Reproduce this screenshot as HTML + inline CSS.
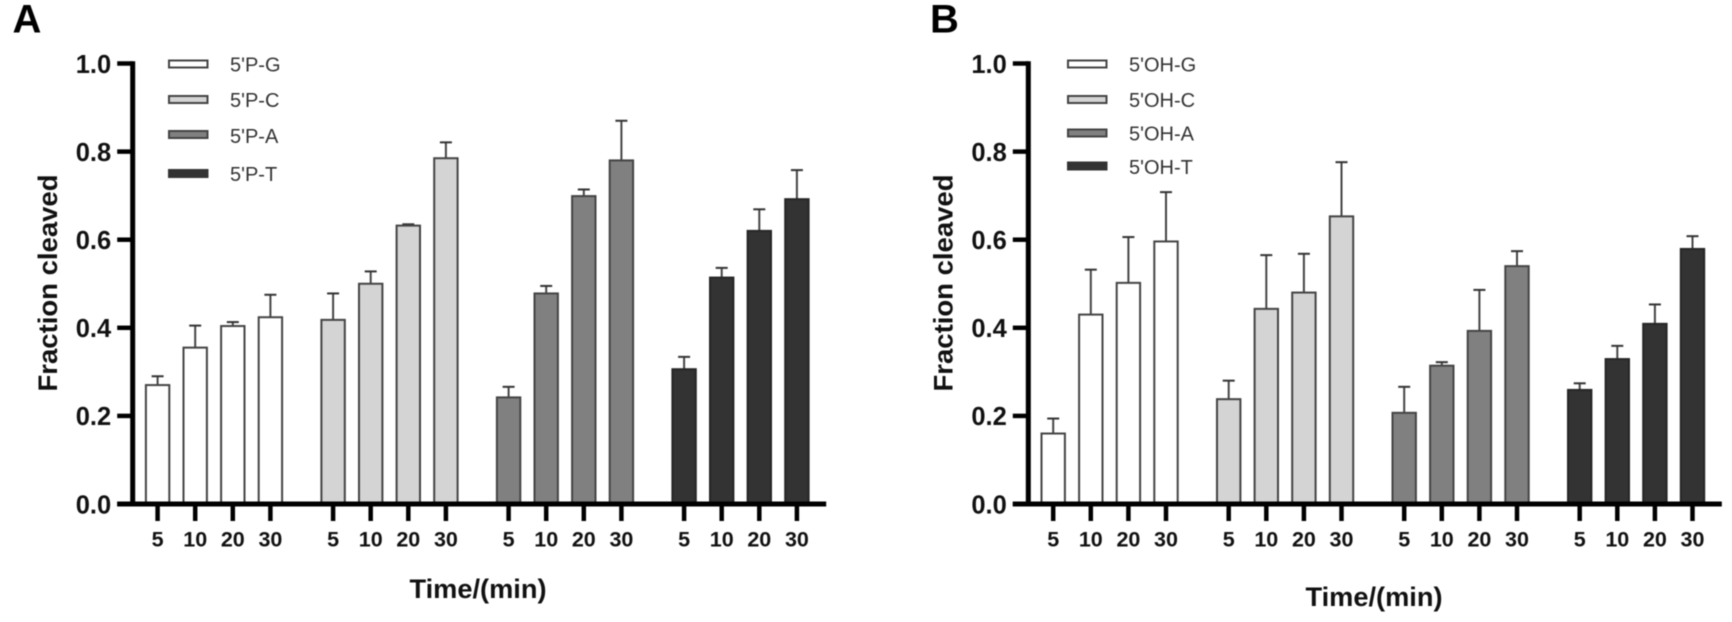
<!DOCTYPE html>
<html lang="en">
<head>
<meta charset="utf-8">
<title>Fraction cleaved over time</title>
<style>
html,body{margin:0;padding:0;background:#fff;width:1732px;height:622px;overflow:hidden}
svg{display:block;filter:blur(0.55px)}
text{font-family:"Liberation Sans",sans-serif;fill:#111}
.tick{font-weight:700;font-size:25.5px}
.xt{font-weight:700;font-size:21.5px}
.title{font-weight:700;font-size:27px}
.leg{font-size:20px;fill:#333}
.letter{font-weight:700;font-size:40px;fill:#000}
</style>
</head>
<body>
<svg id="chart" width="1732" height="622" viewBox="0 0 1732 622" xmlns="http://www.w3.org/2000/svg">
  <text class="letter" x="12.5" y="32.3">A</text>
  <text class="letter" x="930" y="32.3">B</text>
  <g id="panelA">
    <text class="title" x="478" y="598" text-anchor="middle" textLength="137" lengthAdjust="spacingAndGlyphs">Time/(min)</text>
    <text class="title" transform="translate(57,283) rotate(-90)" text-anchor="middle" textLength="217" lengthAdjust="spacingAndGlyphs">Fraction cleaved</text>
    <g>
      <rect x="169" y="60.5" width="38.5" height="7" fill="#fff" stroke="#444" stroke-width="2"/>
      <text class="leg" x="230" y="71.5">5'P-G</text>
      <rect x="169" y="96" width="38.5" height="7" fill="#d4d4d4" stroke="#444" stroke-width="2"/>
      <text class="leg" x="230" y="107">5'P-C</text>
      <rect x="169" y="131" width="38.5" height="7" fill="#808080" stroke="#444" stroke-width="2"/>
      <text class="leg" x="230" y="143">5'P-A</text>
      <rect x="169" y="170" width="38.5" height="7" fill="#333" stroke="#333" stroke-width="2"/>
      <text class="leg" x="230" y="181">5'P-T</text>
    </g>
  </g>
  <g id="panelB">
    <text class="title" x="1374" y="606" text-anchor="middle" textLength="137" lengthAdjust="spacingAndGlyphs">Time/(min)</text>
    <text class="title" transform="translate(952.7,283) rotate(-90)" text-anchor="middle" textLength="217" lengthAdjust="spacingAndGlyphs">Fraction cleaved</text>
    <g>
      <rect x="1068" y="60.5" width="38.5" height="7" fill="#fff" stroke="#444" stroke-width="2"/>
      <text class="leg" x="1129" y="71.5">5'OH-G</text>
      <rect x="1068" y="96" width="38.5" height="7" fill="#d4d4d4" stroke="#444" stroke-width="2"/>
      <text class="leg" x="1129" y="107">5'OH-C</text>
      <rect x="1068" y="129.5" width="38.5" height="7" fill="#808080" stroke="#444" stroke-width="2"/>
      <text class="leg" x="1129" y="140.5">5'OH-A</text>
      <rect x="1068" y="162.5" width="38.5" height="7" fill="#333" stroke="#333" stroke-width="2"/>
      <text class="leg" x="1129" y="174">5'OH-T</text>
    </g>
  </g>
</svg>
<script>
const yTicks = [0, 0.2, 0.4, 0.6, 0.8, 1.0];
const yTickLabels = ['0.0', '0.2', '0.4', '0.6', '0.8', '1.0'];
const timePoints = ['5', '10', '20', '30'];
const bases = ['G', 'C', 'A', 'T'];

const panelAMeans = [
  [0.270, 0.355, 0.404, 0.424],
  [0.418, 0.500, 0.632, 0.785],
  [0.242, 0.478, 0.699, 0.780],
  [0.306, 0.514, 0.620, 0.692]
];
const panelATops = [
  [0.290, 0.405, 0.413, 0.475],
  [0.478, 0.528, 0.635, 0.821],
  [0.266, 0.495, 0.714, 0.870],
  [0.334, 0.536, 0.669, 0.758]
];
const panelBMeans = [
  [0.160, 0.430, 0.502, 0.596],
  [0.238, 0.443, 0.480, 0.653],
  [0.207, 0.314, 0.393, 0.540],
  [0.259, 0.329, 0.409, 0.579]
];
const panelBTops = [
  [0.194, 0.532, 0.606, 0.708],
  [0.280, 0.565, 0.568, 0.776],
  [0.266, 0.322, 0.486, 0.574],
  [0.274, 0.359, 0.453, 0.608]
];

const NS = 'http://www.w3.org/2000/svg';
const fills = ['#ffffff', '#d4d4d4', '#808080', '#333333'];
const strokes = ['#444444', '#444444', '#444444', '#262626'];
const Y0 = 504, YSCALE = 440.5;
function yPos(v) { return Y0 - v * YSCALE; }
function xPos(spine, g, i) { return spine + 24.9 + g * 175.5 + i * 37.6; }

function make(tag, attrs, parent) {
  const el = document.createElementNS(NS, tag);
  for (const k in attrs) el.setAttribute(k, attrs[k]);
  parent.appendChild(el);
  return el;
}

function drawPanel(host, key, spine, means, tops) {
  const right = spine + 693.5;
  means.forEach(function (row, g) {
    row.forEach(function (val, i) {
      const cx = xPos(spine, g, i);
      const yv = yPos(val), yt = yPos(tops[g][i]);
      const stem = make('line', {x1: cx, x2: cx, y1: yv, y2: yt, stroke: '#444', 'stroke-width': 2}, host);
      
      
      const cap = make('line', {x1: cx - 6, x2: cx + 6, y1: yt, y2: yt, stroke: '#333', 'stroke-width': 2}, host);
      
      
      const bar = make('rect', {x: cx - 11.7, y: yv, width: 23.4, height: Y0 - yv, fill: fills[g], stroke: strokes[g], 'stroke-width': 2}, host);
      
      
      const tick = make('line', {x1: cx, x2: cx, y1: Y0, y2: Y0 + 17, stroke: '#000', 'stroke-width': 4.5}, host);
      
      
      const lab = make('text', {x: cx, y: 546.3, 'text-anchor': 'middle', 'class': 'xt'}, host);
      lab.textContent = timePoints[i];
      
      
    });
  });
  yTicks.forEach(function (v, i) {
    const y = yPos(v);
    const tick = make('line', {x1: spine - 15.5, x2: spine, y1: y, y2: y, stroke: '#000', 'stroke-width': 4.5}, host);
    
    
    const lab = make('text', {x: spine - 21.5, y: y + 9.3, 'text-anchor': 'end', 'class': 'tick'}, host);
    lab.textContent = yTickLabels[i];
    
    
  });
  const yAxis = make('line', {x1: spine, x2: spine, y1: yPos(1) - 2.3, y2: Y0 + 2.5, stroke: '#000', 'stroke-width': 5}, host);
  
  
  const xAxis = make('line', {x1: spine - 15.5, x2: right, y1: Y0, y2: Y0, stroke: '#000', 'stroke-width': 5}, host);
  
  
}

drawPanel(document.getElementById('panelA'), 'panel-a', 132.7, panelAMeans, panelATops);
drawPanel(document.getElementById('panelB'), 'panel-b', 1028.3, panelBMeans, panelBTops);
</script>
</body>
</html>
